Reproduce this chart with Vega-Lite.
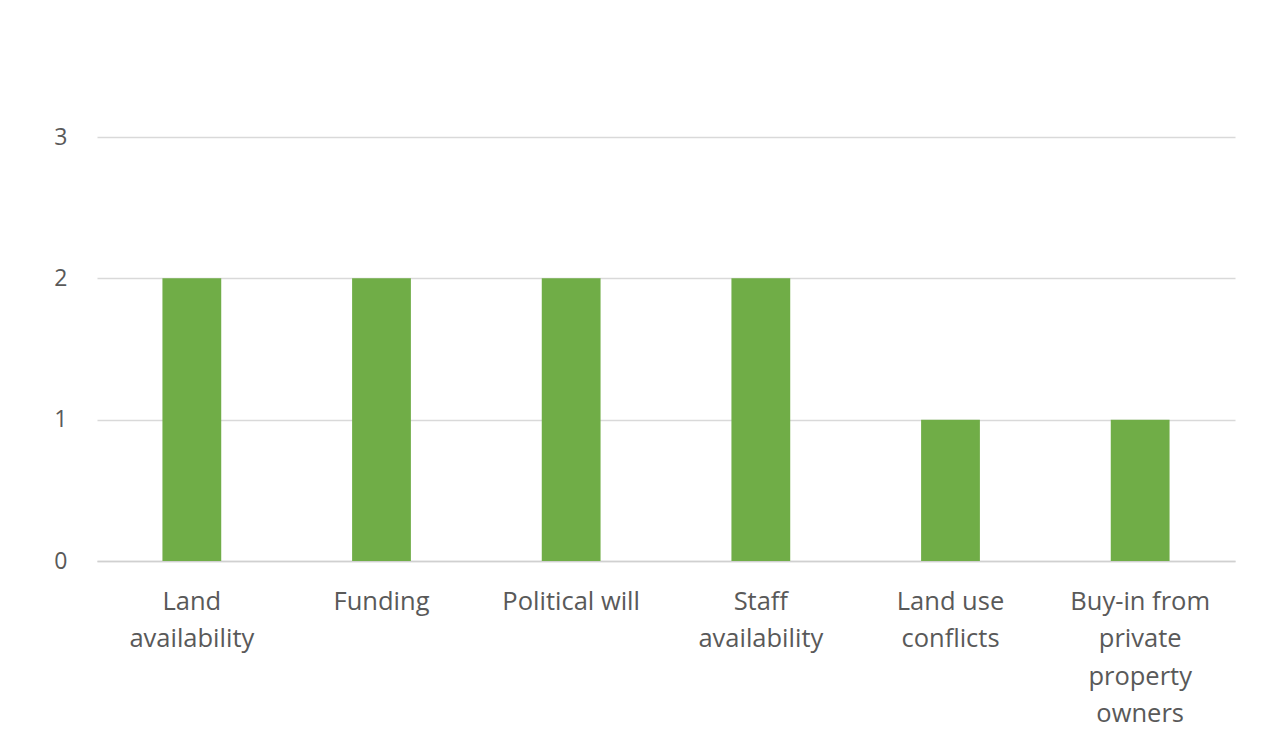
{
  "$schema": "https://vega.github.io/schema/vega-lite/v6.json",
  "autosize": "none",
  "width": 1138,
  "height": 424,
  "padding": {"left": 97, "top": 137, "right": 46, "bottom": 193},
  "background": "white",
  "data": {
    "values": [
      {"category": "Land availability", "count": 2},
      {"category": "Funding", "count": 2},
      {"category": "Political will", "count": 2},
      {"category": "Staff availability", "count": 2},
      {"category": "Land use conflicts", "count": 1},
      {"category": "Buy-in from private property owners", "count": 1}
    ]
  },
  "mark": {"type": "bar", "color": "#70AD47"},
  "encoding": {
    "x": {
      "field": "category",
      "type": "nominal",
      "sort": null,
      "title": null,
      "scale": {"paddingInner": 0.69, "paddingOuter": 0.345},
      "axis": {
        "labelAngle": 0,
        "ticks": false,
        "domainColor": "#d0d0d0",
        "domainWidth": 1.5,
        "labelColor": "#595959",
        "labelFont": "Open Sans",
        "labelFontSize": 25.5,
        "labelLineHeight": 37.5,
        "labelBaseline": "top",
        "labelPadding": 28,
        "labelLimit": 0,
        "labelExpr": "datum.value == 'Land availability' ? ['Land', 'availability'] : datum.value == 'Staff availability' ? ['Staff', 'availability'] : datum.value == 'Land use conflicts' ? ['Land use', 'conflicts'] : datum.value == 'Buy-in from private property owners' ? ['Buy-in from', 'private', 'property', 'owners'] : datum.value"
      }
    },
    "y": {
      "field": "count",
      "type": "quantitative",
      "title": null,
      "scale": {"domain": [0, 3], "nice": false},
      "axis": {
        "values": [0, 1, 2, 3],
        "domain": false,
        "ticks": false,
        "gridColor": "#d9d9d9",
        "gridWidth": 1.5,
        "labelColor": "#595959",
        "labelFont": "Open Sans",
        "labelFontSize": 23,
        "labelPadding": 30,
        "format": "d"
      }
    }
  },
  "config": {"view": {"stroke": null}}
}
